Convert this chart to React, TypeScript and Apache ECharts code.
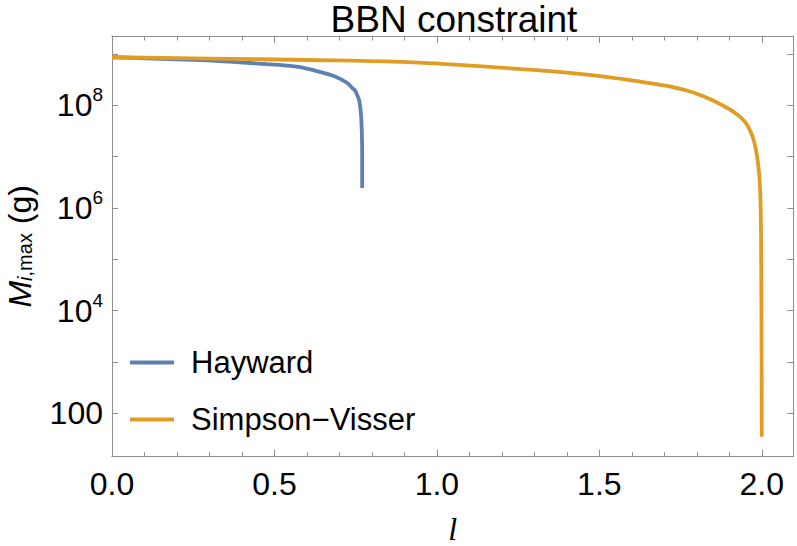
import React, { useEffect, useRef } from "react";
import * as echarts from "echarts";

// Hayward curve: l and M_{i,max} in grams
const haywardL = [0, 0.1, 0.2, 0.271, 0.373, 0.476, 0.53, 0.579, 0.63, 0.681, 0.722, 0.74, 0.748, 0.757, 0.761, 0.766, 0.769, 0.77, 0.77];
const haywardM = [8.6e8, 8.2e8, 7.85e8, 7.6e8, 7.0e8, 6.3e8, 6.0e8, 5.55e8, 4.63e8, 3.74e8, 2.77e8, 2.16e8, 1.93e8, 1.45e8, 1.23e8, 7.1e7, 2.9e7, 9.8e6, 2.45e6];

// Simpson-Visser curve
const svL = [0, 0.3, 0.6, 0.887, 1.041, 1.195, 1.348, 1.502, 1.605, 1.708, 1.779, 1.81, 1.84, 1.872, 1.912, 1.949, 1.973, 1.988, 1.995, 1.998, 2.0];
const svM = [8.6e8, 8.1e8, 7.6e8, 7.0e8, 6.25e8, 5.4e8, 4.6e8, 3.7e8, 3.0e8, 2.37e8, 1.85e8, 1.58e8, 1.32e8, 1.05e8, 7.5e7, 4.7e7, 2.3e7, 7.8e6, 2.24e6, 1.5e5, 35];

const seriesNames = ["Hayward", "Simpson\u2212Visser"];

const FONT = "'Liberation Sans', Arial, sans-serif";
const AXIS_COLOR = "#8f8f8f";
const BLUE = "#5E81B5";
const ORANGE = "#E19C24";

const X_MIN = 0;
const X_MAX = 2.097;
const Y_MIN = 14.3; // grams
const Y_MAX = 2.23e9;

export default function App() {
  const ref = useRef<HTMLDivElement>(null);

  useEffect(() => {
    document.body.style.margin = "0";
    if (!ref.current) return;
    const chart = echarts.init(ref.current, undefined, { renderer: "svg" });

    const xBase = (position: "top" | "bottom", interval: number, len: number, labels: boolean) => ({
      type: "value",
      position,
      min: X_MIN,
      max: X_MAX,
      interval,
      axisLine: { show: true, onZero: false, lineStyle: { color: AXIS_COLOR, width: 1 } },
      axisTick: { show: true, inside: true, length: len, lineStyle: { color: AXIS_COLOR, width: 1 } },
      axisLabel: labels
        ? {
            show: true,
            showMinLabel: true,
            showMaxLabel: false,
            formatter: (v: number) => (Math.abs(v * 2 - Math.round(v * 2)) < 1e-6 ? v.toFixed(1) : ""),
            fontSize: 32,
            fontFamily: FONT,
            color: "#000",
            margin: 11,
          }
        : { show: false },
      splitLine: { show: false },
    });

    const yLabel = (v: number) => {
      const lg = Math.log10(v);
      const e = Math.round(lg);
      if (Math.abs(lg - e) > 1e-6 || e % 2 !== 0) return "";
      return e === 2 ? "{b|100}" : `{b|10}{s|${e}}`;
    };

    const yBase = (position: "left" | "right", labels: boolean) => ({
      type: "log",
      logBase: 10,
      position,
      min: Y_MIN,
      max: Y_MAX,
      splitNumber: 8,
      axisLine: { show: true, onZero: false, lineStyle: { color: AXIS_COLOR, width: 1 } },
      axisTick: { show: true, inside: true, length: 6, lineStyle: { color: AXIS_COLOR, width: 1 } },
      axisLabel: labels
        ? {
            show: true,
            showMinLabel: false,
            showMaxLabel: false,
            formatter: yLabel,
            margin: 9,
            rich: {
              b: { fontSize: 32, fontFamily: FONT, color: "#000", lineHeight: 40 },
              s: { fontSize: 19, fontFamily: FONT, color: "#000", verticalAlign: "top", lineHeight: 28 },
            },
          }
        : { show: false },
      splitLine: { show: false },
      minorTick: { show: false },
    });

    const xAxes: any[] = [
      {
        ...xBase("bottom", 0.5, 7, true),
        name: "l",
        nameLocation: "middle",
        nameGap: 60,
        nameTextStyle: {
          fontSize: 32,
          lineHeight: 24,
          fontFamily: "'Liberation Serif', serif",
          fontStyle: "italic",
          color: "#000",
        },
      },
      xBase("bottom", 0.1, 4.5, false),
      xBase("top", 0.5, 7, false),
      xBase("top", 0.1, 4.5, false),
    ];
    const yAxes: any[] = [
      {
        ...yBase("left", true),
        name: "{m|M}{i|i}{sub|,max}{n| (g)}",
        nameLocation: "middle",
        nameGap: 77,
        nameRotate: 90,
        nameTextStyle: {
          rich: {
            m: { fontSize: 32, fontFamily: FONT, fontStyle: "italic", color: "#000", lineHeight: 30 },
            i: { fontSize: 20, fontFamily: FONT, fontStyle: "italic", color: "#000", verticalAlign: "bottom", lineHeight: 22 },
            sub: { fontSize: 20, fontFamily: FONT, color: "#000", verticalAlign: "bottom", lineHeight: 22 },
            n: { fontSize: 32, fontFamily: FONT, color: "#000", lineHeight: 30 },
          },
        },
      },
      yBase("right", false),
    ];

    chart.setOption({
      animation: false,
      backgroundColor: "#fff",
      grid: { left: 112, right: 3.7, top: 36, bottom: 89.3, containLabel: false, outerBoundsMode: "none" },
      graphic: [
        {
          type: "text",
          x: 454,
          y: 0.5,
          style: {
            text: "BBN constraint",
            fontSize: 37,
            fontFamily: FONT,
            fill: "#000",
            align: "center",
            verticalAlign: "top",
          },
        },
      ],
      legend: {
        orient: "vertical",
        left: 125,
        top: 342,
        icon: "rect",
        itemWidth: 44,
        itemHeight: 4,
        itemGap: 26,
        textStyle: { fontSize: 31, fontFamily: FONT, color: "#000", lineHeight: 31, padding: [0, 0, 0, 12] },
        data: seriesNames,
      },
      xAxis: xAxes,
      yAxis: yAxes,
      series: [
        {
          name: seriesNames[0],
          type: "line",
          xAxisIndex: 0,
          yAxisIndex: 0,
          data: haywardL.map((l, i) => [l, haywardM[i]]),
          showSymbol: false,
          symbol: "none",
          smooth: 0.4,
          lineStyle: { color: BLUE, width: 3.8 },
          itemStyle: { color: BLUE },
        },
        {
          name: seriesNames[1],
          type: "line",
          xAxisIndex: 0,
          yAxisIndex: 0,
          data: svL.map((l, i) => [l, svM[i]]),
          showSymbol: false,
          symbol: "none",
          smooth: 0.4,
          lineStyle: { color: ORANGE, width: 3.8 },
          itemStyle: { color: ORANGE },
        },
      ],
    });

    return () => chart.dispose();
  }, []);

  return <div ref={ref} style={{ width: 797, height: 546 }} />;
}
